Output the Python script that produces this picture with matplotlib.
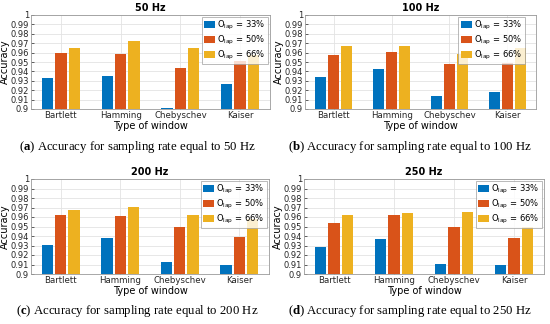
import matplotlib
matplotlib.use("Agg")
import matplotlib.pyplot as plt
import numpy as np

plt.rcParams['font.family'] = ['DejaVu Sans']
plt.rcParams['mathtext.fontset'] = 'custom'
plt.rcParams['mathtext.rm'] = 'Liberation Serif'
plt.rcParams['mathtext.bf'] = 'Liberation Serif:bold'
plt.rcParams['mathtext.sf'] = 'DejaVu Sans'

windows = ["Bartlett", "Hamming", "Chebyschev", "Kaiser"]
series_labels = [r"O$_{\mathsf{lap}}$ = 33%", r"O$_{\mathsf{lap}}$ = 50%", r"O$_{\mathsf{lap}}$ = 66%"]
colors = ["#0072BD", "#D95319", "#EDB120"]

titles = ["50 Hz", "100 Hz", "200 Hz", "250 Hz"]
letters = ["a", "b", "c", "d"]
rates = ["50", "100", "200", "250"]

acc_50 = [[0.933, 0.935, 0.901, 0.927],
          [0.960, 0.958, 0.944, 0.951],
          [0.965, 0.972, 0.965, 0.957]]
acc_100 = [[0.934, 0.943, 0.914, 0.918],
           [0.957, 0.961, 0.948, 0.949],
           [0.967, 0.967, 0.958, 0.965]]
acc_200 = [[0.931, 0.938, 0.913, 0.910],
           [0.962, 0.961, 0.949, 0.939],
           [0.967, 0.971, 0.962, 0.958]]
acc_250 = [[0.928, 0.937, 0.911, 0.909],
           [0.954, 0.962, 0.949, 0.938],
           [0.962, 0.964, 0.965, 0.950]]
all_data = [acc_50, acc_100, acc_200, acc_250]

W, H = 550, 324
fig = plt.figure(figsize=(5.5, 3.24), dpi=100)

# axes boxes in pixels: left, top, right, bottom
boxes = [(31, 15, 270, 109), (305, 15, 536, 109),
         (31, 179, 269, 274), (304, 179, 544, 274)]
legend_anchor = [(1.0, 1.0), (0.96, 1.0), (1.0, 1.0), (1.0, 1.0)]
caption_xy = [(137, 147), (410, 147), (137, 311), (410, 311)]

x = np.arange(1, len(windows) + 1)
width = 0.19
offsets = [-0.225, 0.0, 0.225]

for i, data in enumerate(all_data):
    l, t, r, b = boxes[i]
    ax = fig.add_axes([l / W, 1 - b / H, (r - l) / W, (b - t) / H])
    for k in range(3):
        ax.bar(x + offsets[k], np.array(data[k]) - 0.9, width, bottom=0.9,
               color=colors[k], label=series_labels[k], zorder=3)
    ax.set_xlim(0.5, 4.5)
    ax.set_ylim(0.9, 1.0)
    ax.set_xticks(x)
    ax.set_xticklabels(windows, fontsize=6.2)
    yt = np.round(np.arange(0.9, 1.0001, 0.01), 2)
    ax.set_yticks(yt)
    ax.set_yticklabels([("%g" % v) for v in yt], fontsize=6)
    ax.grid(True, color="#e3e3e3", linewidth=0.6, zorder=0)
    ax.set_axisbelow(True)
    ax.tick_params(direction="in", length=2, width=0.5, colors="#262626", pad=1.5)
    for s in ax.spines.values():
        s.set_color("#9a9a9a")
        s.set_linewidth(0.6)
    ax.set_title(titles[i], fontsize=7, fontweight="bold", pad=3)
    ax.set_xlabel("Type of window", fontsize=7, labelpad=1)
    ax.set_ylabel("Accuracy", fontsize=7, labelpad=0.5)
    leg = ax.legend(loc="upper right", bbox_to_anchor=legend_anchor[i], fontsize=6,
                    frameon=True, fancybox=False, edgecolor="#9a9a9a",
                    handlelength=1.3, handleheight=0.9, handletextpad=0.3,
                    borderpad=0.3, labelspacing=0.2, borderaxespad=0.2)
    leg.get_frame().set_linewidth(0.6)
    cx, cy = caption_xy[i]
    fig.text(cx / W, 1 - cy / H,
             r"($\mathbf{%s}$) Accuracy for sampling rate equal to %s Hz" % (letters[i], rates[i]),
             fontsize=9.2, family="Liberation Serif", ha="center", va="center")

fig.savefig("out.png", dpi=100)
